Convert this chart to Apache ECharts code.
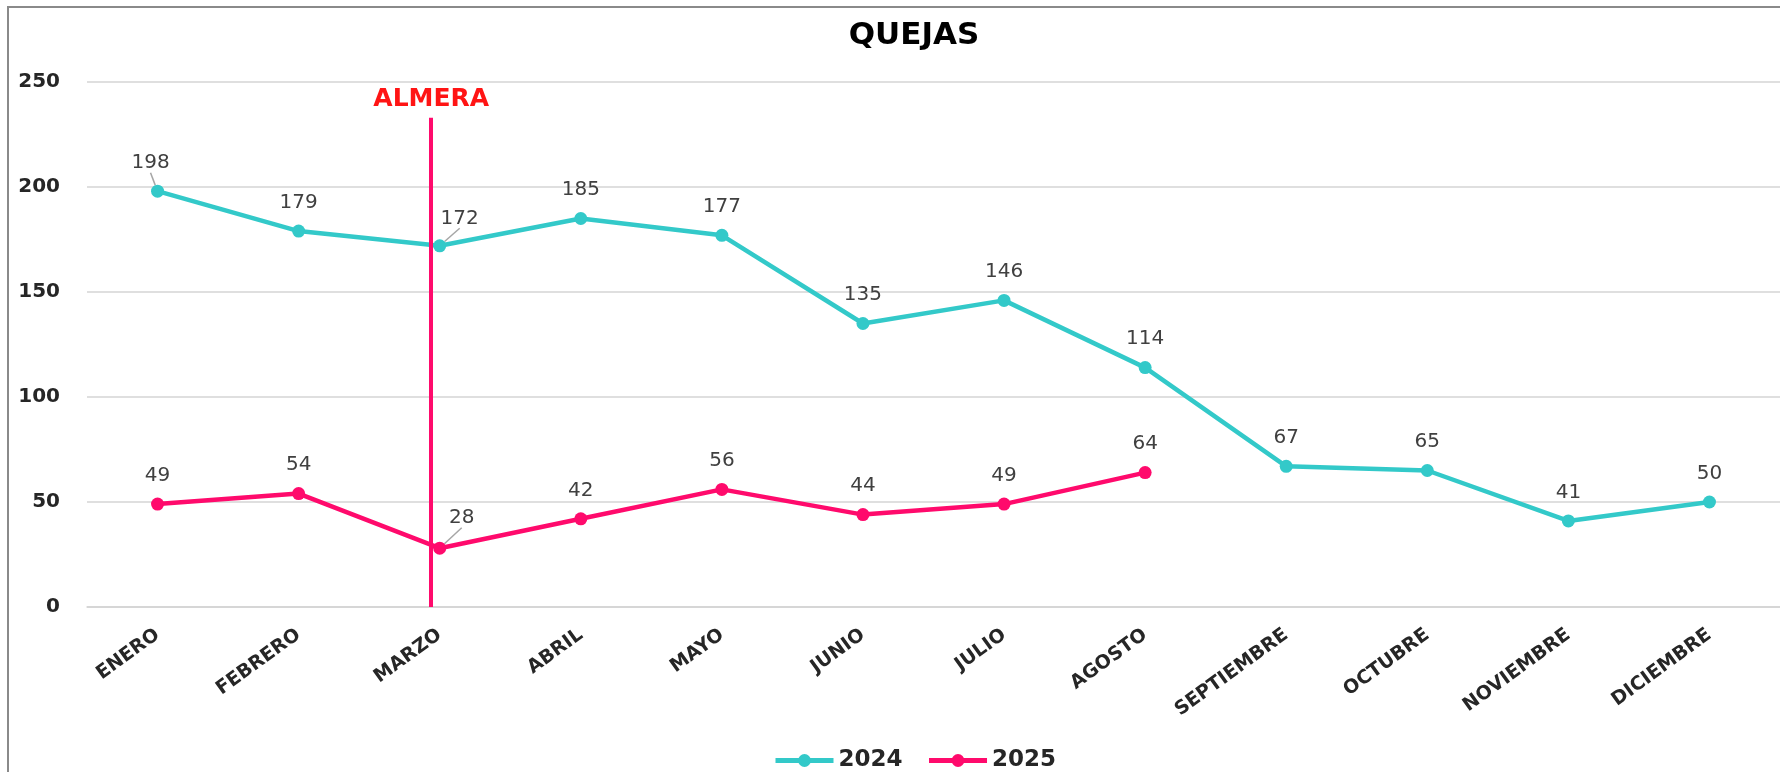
<!DOCTYPE html>
<html>
<head>
<meta charset="utf-8">
<script src="https://cdn.jsdelivr.net/npm/echarts@6/dist/echarts.min.js"></script>
<style>
html,body{margin:0;padding:0;background:#fff;}
#chart{width:1780px;height:772px;}
</style>
</head>
<body>
<div id="chart"></div>
<script>
const categories = ['ENERO','FEBRERO','MARZO','ABRIL','MAYO','JUNIO','JULIO','AGOSTO','SEPTIEMBRE','OCTUBRE','NOVIEMBRE','DICIEMBRE'];
const values2024 = [198,179,172,185,177,135,146,114,67,65,41,50];
const values2025 = [49,54,28,42,56,44,49,64];
const seriesNames = ['2024','2025'];
const yTicks = { min: 0, max: 250, interval: 50 };
const markerLabel = 'ALMERA';
const markerX = 1.94;      // position on hidden value axis (category index space)
const markerTop = 233;     // top of marker line in data units
const titleText = 'QUEJAS';

const TEAL = '#33C9C9';
const PINK = '#FF0A6C';

// label displacement (style only)
const shift2024 = {0:[-7,0], 2:[20,1]};
const shift2025 = {2:[22,-2]};

function buildData(vals, shifts){
  return vals.map((v,i)=> shifts[i] ? {value:v, labelLine:{show:true}} : v);
}

const chart = echarts.init(document.getElementById('chart'), null, {renderer:'canvas'});
const labelStyle = {
  show:true, position:'top', distance:12,
  fontFamily:'DejaVu Sans', fontSize:20, color:'#404040'
};
const option = {
  backgroundColor:'#ffffff',
  animation:false,
  title:{
    text:titleText, left:909, top:15, textAlign:'center',
    textStyle:{fontFamily:'DejaVu Sans', fontWeight:'bold', fontSize:31, color:'#000'}
  },
  graphic:[{
    type:'rect', silent:true, z:-1,
    shape:{x:8, y:7, width:1800, height:800},
    style:{fill:'none', stroke:'#8a8a8a', lineWidth:2}
  }],
  legend:{
    left:768, top:744,
    itemWidth:58, itemHeight:16, itemGap:24,
    lineStyle:{width:5},
    textStyle:{fontFamily:'DejaVu Sans', fontWeight:'bold', fontSize:23, color:'#262626'},
    data:seriesNames
  },
  grid:{left:87, top:82, width:1698, height:525, containLabel:false},
  xAxis:[{
    type:'category', data:categories, boundaryGap:true,
    axisLine:{show:true, lineStyle:{color:'#d4d4d4', width:1.5}},
    axisTick:{show:false},
    axisLabel:{rotate:36, margin:26, interval:0, fontFamily:'DejaVu Sans', fontWeight:'bold', fontSize:19, color:'#262626'},
    splitLine:{show:false}
  },{
    type:'value', min:-0.5, max:11.5, show:false
  }],
  yAxis:{
    type:'value', min:yTicks.min, max:yTicks.max, interval:yTicks.interval,
    axisLine:{show:false}, axisTick:{show:false},
    axisLabel:{margin:27, fontFamily:'DejaVu Sans', fontWeight:'bold', fontSize:20, color:'#262626'},
    splitLine:{lineStyle:{color:'#d4d4d4', width:1.5}}
  },
  series:[{
    name:seriesNames[0], type:'line', data:buildData(values2024, shift2024),
    symbol:'circle', symbolSize:13,
    lineStyle:{color:TEAL, width:4.5}, itemStyle:{color:TEAL},
    label:labelStyle,
    labelLine:{show:false, lineStyle:{color:'#a6a6a6', width:1.5}},
    labelLayout:function(p){ const s=shift2024[p.dataIndex]; return s?{dx:s[0], dy:s[1]}:{}; },
    z:3
  },{
    name:seriesNames[1], type:'line', data:buildData(values2025, shift2025),
    symbol:'circle', symbolSize:13,
    lineStyle:{color:PINK, width:4.5}, itemStyle:{color:PINK},
    label:labelStyle,
    labelLine:{show:false, lineStyle:{color:'#a6a6a6', width:1.5}},
    labelLayout:function(p){ const s=shift2025[p.dataIndex]; return s?{dx:s[0], dy:s[1]}:{}; },
    z:3
  },{
    name:'marker', type:'line', xAxisIndex:1, yAxisIndex:0, data:[],
    silent:true, z:2,
    markLine:{
      silent:true, symbol:['none','none'], animation:false,
      lineStyle:{color:PINK, width:4, type:'solid'},
      label:{show:true, position:'end', distance:6, formatter:markerLabel,
        fontFamily:'DejaVu Sans', fontWeight:'bold', fontSize:25, color:'#FF1414'},
      emphasis:{disabled:true},
      data:[[{coord:[markerX, yTicks.min]},{coord:[markerX, markerTop]}]]
    }
  }]
};
chart.setOption(option);
</script>
</body>
</html>
